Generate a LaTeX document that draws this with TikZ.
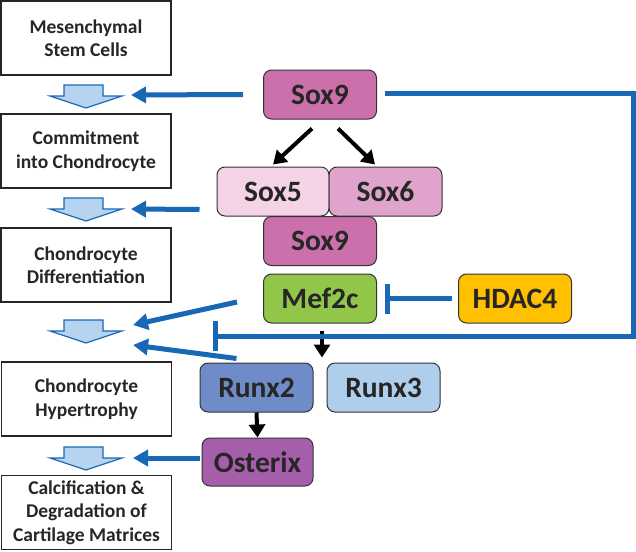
\documentclass[tikz,border=0pt]{standalone}
\usepackage{fontspec}
\setmainfont{Carlito}
\usepackage{xcolor}
\usepackage{tikz}
\usetikzlibrary{arrows.meta,positioning,calc}

\definecolor{sigblue}{RGB}{24,104,182}
\definecolor{flowfill}{RGB}{182,212,240}
\definecolor{soxdark}{RGB}{204,112,172}
\definecolor{soxlight}{RGB}{243,211,229}
\definecolor{soxmid}{RGB}{224,164,204}
\definecolor{mefgreen}{RGB}{146,198,72}
\definecolor{hdacgold}{RGB}{255,192,0}
\definecolor{runxdark}{RGB}{112,140,200}
\definecolor{runxlight}{RGB}{174,206,236}
\definecolor{osxpurple}{RGB}{165,95,170}

\begin{document}
\begin{tikzpicture}[x=1pt,y=-1pt,
    stage/.style={draw=black!85, line width=1.1pt, fill=white, minimum width=170pt,
        minimum height=74pt, inner sep=0pt, align=center,
        font=\fontsize{19.5}{23.5}\selectfont\bfseries, text=black!85},
    factor/.style={draw=black!80, line width=1pt, rounded corners=8pt, minimum width=113pt,
        minimum height=49pt, inner sep=0pt, font=\fontsize{29.5}{30}\selectfont\bfseries, text=black!85},
    flowarrow/.style={draw=sigblue, line width=1.2pt, fill=flowfill, line join=miter},
    blueline/.style={draw=sigblue, line width=5pt, -{Triangle[length=15pt,width=16pt]}},
    inhibit/.style={draw=sigblue, line width=5pt, -{Bar[width=30pt]}},
    blackarrow/.style={draw=black, line width=4pt, -{Triangle[length=13pt,width=16pt]}}]
    \useasboundingbox (0,0) rectangle (636,551);

    % Stages of chondrocyte development
    \node[stage] (msc) at (86,38) {Mesenchymal\\Stem Cells};
    \node[stage] (commit) at (86,151) {Commitment\\into Chondrocyte};
    \node[stage] (diff) at (86,265) {Chondrocyte\\Differentiation};
    \node[stage] (hyper) at (86.5,399) {Chondrocyte\\Hypertrophy};
    \node[stage] (calc) at (86.5,512.5) {Calcification \&\\Degradation of\\Cartilage Matrices};

    % Hollow arrows between stages
    \foreach \y in {85,198,320,447}
        \draw[flowarrow] (64,\y) -- (103,\y) -- (103,\y+11) -- (122,\y+11) -- (86,\y+23)
            -- (50,\y+11) -- (64,\y+11) -- cycle;
    \coordinate (flow1) at (131,95);
    \coordinate (flow2) at (131,209);
    \coordinate (flow3a) at (133,325);
    \coordinate (flow3b) at (133,345);
    \coordinate (flow4) at (133,458);

    % Transcription factors
    \node[factor, fill=soxdark] (sox9a) at (320,94.5) {Sox9};
    \node[factor, fill=soxlight, minimum width=112pt] (sox5) at (273,191.5) {Sox5};
    \node[factor, fill=soxmid] (sox6) at (385.5,191.5) {Sox6};
    \node[factor, fill=soxdark] (sox9b) at (320,241) {Sox9};
    \node[factor, fill=mefgreen] (mef2c) at (320,298.5) {Mef2c};
    \node[factor, fill=hdacgold] (hdac4) at (515,298.5) {HDAC4};
    \node[factor, fill=runxdark] (runx2) at (256.5,387.5) {Runx2};
    \node[factor, fill=runxlight] (runx3) at (383.5,387.5) {Runx3};
    \node[factor, fill=osxpurple, minimum width=111pt, minimum height=48pt] (osterix) at (257.5,462) {Osterix};

    % Induction between factors
    \draw[blackarrow] ([xshift=-8pt,yshift=-9pt]sox9a.south) -- ([yshift=2pt]sox5.north);
    \draw[blackarrow] ([xshift=18pt,yshift=-9pt]sox9a.south) -- ([xshift=-10.5pt,yshift=2pt]sox6.north);
    \draw[blackarrow] ([xshift=2pt,yshift=-7pt]mef2c.south)
        -- ($(runx2.north east)!0.5!(runx3.north west)+(2pt,5pt)$);
    \draw[blackarrow] (runx2.south) -- (osterix.north);

    % Action on the stages
    \draw[blueline] ([xshift=-20pt]sox9a.west) -- (flow1);
    \draw[blueline] ([shift={(-17pt,7pt)}]sox5.south west) -- (flow2);
    \draw[blueline] ([shift={(-26pt,-3.5pt)}]mef2c.west) -- (flow3a);
    \draw[blueline] ([shift={(37pt,4pt)}]runx2.north west) -- (flow3b);
    \draw[blueline] ([shift={(-2pt,4pt)}]osterix.west) -- (flow4);

    % Inhibition
    \coordinate (loopcorner) at (633,336);
    \coordinate (hyperblock) at (213,336);
    \draw[inhibit] ([xshift=8pt,yshift=1.5pt]sox9a.east) -| (loopcorner) -- (hyperblock);
    \draw[inhibit] ([xshift=-6pt]hdac4.west) -- ([xshift=8pt]mef2c.east);
\end{tikzpicture}
\end{document}
